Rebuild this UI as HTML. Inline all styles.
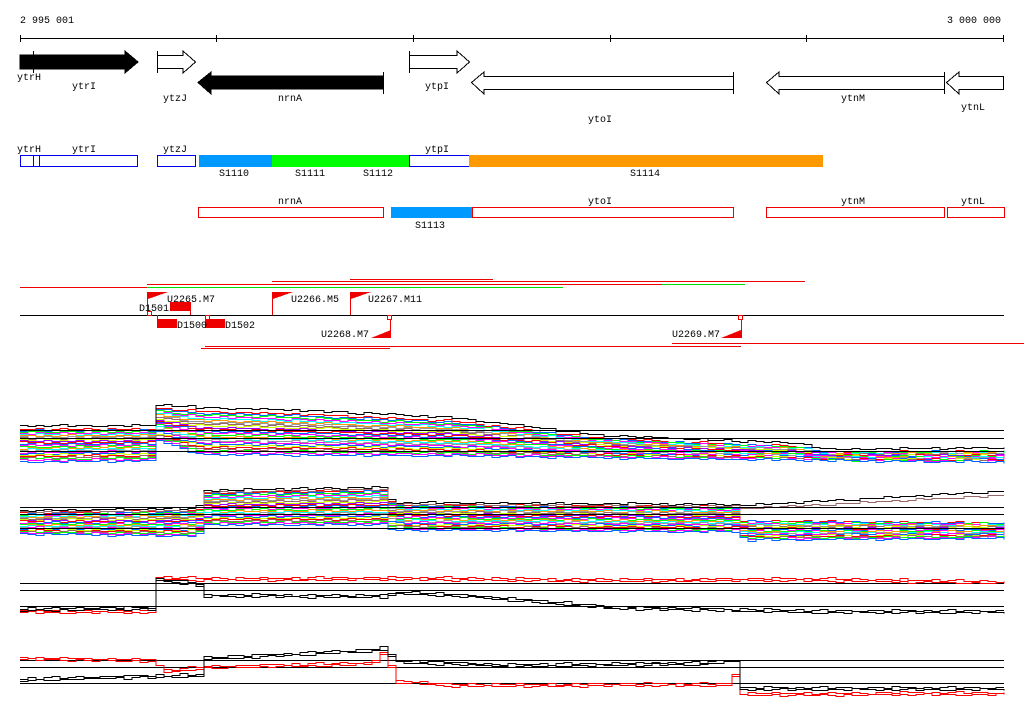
<!DOCTYPE html>
<html><head><meta charset="utf-8"><style>
html,body{margin:0;padding:0;background:#fff;}
svg{display:block;font-family:"Liberation Mono",monospace;font-size:10px;}
</style></head><body>
<svg id="chart" width="1024" height="714" viewBox="0 0 1024 714" xmlns="http://www.w3.org/2000/svg" shape-rendering="crispEdges">
<g>
<text x="20" y="23">2 995 001</text>
<text x="1001" y="23" text-anchor="end">3 000 000</text>
<line x1="20" y1="38.5" x2="1004" y2="38.5" stroke="#000"/>
<path d="M20.5 35v7M216.5 35v7M413.5 35v7M610.5 35v7M806.5 35v7M1003.5 35v7" stroke="#000"/>
</g>
<g stroke="#000">
<path d="M20 55H125V51L138 62L125 73V69H20Z" fill="#000"/>
<line x1="33.5" y1="51" x2="33.5" y2="73"/>
<path d="M157.5 55.5H183V51L195.5 62L183 73V68.5H157.5Z M157.5 51v22" fill="#fff"/>
<path d="M383 76H211V72L198 82.5L211 94V89H383Z" fill="#000"/>
<line x1="383.5" y1="72" x2="383.5" y2="94"/>
<path d="M409.5 55.5H457V51L469.5 62L457 73V68.5H409.5Z M409.5 51v22" fill="#fff"/>
<path d="M733.5 76.5H484V72L471.5 82.5L484 94V89.5H733.5Z M733.5 72v22" fill="#fff"/>
<path d="M944.5 76.5H779V72L766.5 82.5L779 94V89.5H944.5Z M944.5 72v22" fill="#fff"/>
<path d="M1003.5 76.5H959V72L946.5 82.5L959 94V89.5H1003.5Z" fill="#fff"/>
</g>
<g>
<text x="17" y="80">ytrH</text><text x="72" y="89">ytrI</text><text x="163" y="101">ytzJ</text>
<text x="278" y="101">nrnA</text><text x="425" y="89">ytpI</text><text x="588" y="122">ytoI</text>
<text x="841" y="101">ytnM</text><text x="961" y="110">ytnL</text>
</g>
<g>
<text x="17" y="152">ytrH</text><text x="72" y="152">ytrI</text><text x="163" y="152">ytzJ</text><text x="425" y="152">ytpI</text>
<rect x="20.5" y="155.5" width="117" height="11" fill="none" stroke="#0000ee"/>
<path d="M33.5 155v12M39.5 155v12" stroke="#0000ee"/>
<rect x="157.5" y="155.5" width="38" height="11" fill="none" stroke="#0000ee"/>
<rect x="199" y="155" width="73" height="12" fill="#0099ff"/>
<rect x="272" y="155" width="137" height="12" fill="#00ff00"/>
<rect x="409.5" y="155.5" width="60" height="11" fill="none" stroke="#0000ee"/>
<rect x="469" y="155" width="354" height="12" fill="#ff9900"/>
<text x="219" y="176">S1110</text><text x="295" y="176">S1111</text><text x="363" y="176">S1112</text><text x="630" y="176">S1114</text>
</g>
<g>
<text x="278" y="204">nrnA</text><text x="588" y="204">ytoI</text><text x="841" y="204">ytnM</text><text x="961" y="204">ytnL</text>
<rect x="198.5" y="207.5" width="185" height="10" fill="none" stroke="#ee0000"/>
<rect x="391" y="207" width="81" height="11" fill="#0099ff"/>
<rect x="472.5" y="207.5" width="261" height="10" fill="none" stroke="#ee0000"/>
<rect x="766.5" y="207.5" width="178" height="10" fill="none" stroke="#ee0000"/>
<rect x="947.5" y="207.5" width="57" height="10" fill="none" stroke="#ee0000"/>
<text x="415" y="228">S1113</text>
</g>
<g>
<path d="M350 279.5H493M272 281.5H805M147 284.5H662M20 287.5H147" stroke="#ee0000"/>
<path d="M662 284.5H745M147 287.5H563" stroke="#00dd00"/>
<line x1="20" y1="315.5" x2="1004" y2="315.5" stroke="#000"/>
</g>
<g fill="#ee0000">
<path d="M147.5 292v23M272.5 292v23M350.5 292v23M190.5 302v13M157.5 315v4M390.5 315v23M741.5 315v23" stroke="#ee0000"/>
<path d="M148 292h20l-20 7z M273 292h20l-20 7z M351 292h20l-20 7z"/>
<rect x="170" y="302" width="20" height="9"/>
<rect x="157" y="319" width="20" height="9"/>
<rect x="205" y="319" width="20" height="9"/>
<rect x="147.5" y="311.5" width="4" height="4" fill="#fff" stroke="#ee0000"/>
<rect x="205.5" y="315.5" width="4" height="4" fill="#fff" stroke="#ee0000"/>
<rect x="387.5" y="315.5" width="4" height="4" fill="#fff" stroke="#ee0000"/>
<rect x="738.5" y="315.5" width="4" height="4" fill="#fff" stroke="#ee0000"/>
<path d="M371 338h20v-8z M721 338h20v-8z"/>
<g fill="#000">
<text x="167" y="302">U2265.M7</text>
<text x="291" y="302">U2266.M5</text>
<text x="368" y="302">U2267.M11</text>
<text x="139" y="311">D1501</text><text x="177" y="328">D1500</text><text x="225" y="328">D1502</text>
<text x="369" y="337" text-anchor="end">U2268.M7</text>
<text x="720" y="337" text-anchor="end">U2269.M7</text>
</g>
<path d="M672 343.5H1024M205 346.5H741M201 348.5H390" stroke="#ee0000" fill="none"/>
</g>
<g id="panels"></g>
</svg>
<script>
// Panel envelopes: [genomic x, y] keypoints
const p1Top=[[20,428],[148,428],[156,407],[195,410],[300,413],[450,420],[600,438],[800,446],[822,452],[1004,450]];
const p1Bot=[[20,462],[148,461],[156,440],[195,455],[450,456],[800,460],[1004,462]];
const p2Top=[[20,512],[195,510],[203,492],[380,489],[390,504],[732,506],[740,520],[1004,522]];
const p2Bot=[[20,534],[195,536],[203,525],[383,525],[390,530],[734,532],[742,540],[1004,538]];
const fracs=[0.02,0.06,0.1,0.14,0.18,0.22,0.26,0.3,0.34,0.38,0.42,0.46,0.5,0.54,0.58,0.62,0.66,0.7,0.74,0.78,0.82,0.86,0.9,0.94,0.98];
const colors=["#ff0000","#0066ff","#00ff00","#ff00ff","#00ffff","#ff9900","#999999","#996666","#ccff00","#9900ff","#ff0000","#0066ff","#ff00ff","#00ff00","#ff9900","#00ffff","#999999","#ff00ff","#0066ff","#ccff00","#ff0000","#996666","#00ff00","#ff00ff","#0066ff"];
const jitter=[0,1,-1,2,0,-2,1,0,-1,1,2,-1,0,1,-2,0];
const p1Lines=[430,438,451];
const p2Lines=[507,514,528];
const p3Lines=[583,590,606];
const p4Lines=[660,667,683];
const p3Red=[[20,610],[148,610],[153,576],[200,578],[400,577],[600,579],[800,578],[1004,581]];
const p3Black=[[20,608],[148,607],[153,578],[195,582],[203,594],[380,595],[400,591],[470,595],[610,606],[800,610],[1004,610]];
const p4Red=[[20,657],[148,659],[165,670],[200,666],[370,662],[383,648],[392,680],[450,684],[725,683],[733,672],[740,693],[1004,692]];
const p4Black=[[20,678],[150,675],[198,674],[203,657],[370,649],[383,647],[392,660],[500,664],[700,662],[733,659],[740,687],[1004,687]];
const g=document.getElementById('panels');
function interp(pts,x){for(let i=1;i<pts.length;i++){if(x<=pts[i][0]){const a=pts[i-1],b=pts[i];const t=(x-a[0])/(b[0]-a[0]||1);return a[1]+t*(b[1]-a[1]);}}return pts[pts.length-1][1];}
function stepPath(fn,off){let d='';for(let x=20,k=0;x<=1004;x+=8,k++){const y=Math.round(fn(x)+jitter[(k+off)%jitter.length]*0.5)+0.5;d+=(d?'L':'M')+x+' '+y+'H'+Math.min(x+8,1004);}return d;}
function addPath(d,c,name){const p=document.createElementNS('http://www.w3.org/2000/svg','path');
p.setAttribute('d',d);p.setAttribute('stroke',c);p.setAttribute('fill','none');


g.appendChild(p);}
function hlines(arr,name){arr.forEach(y=>addPath('M20 '+(y+0.5)+'H1004','#000',name));}
function bundle(top,bot,name){fracs.forEach((f,i)=>{addPath(stepPath(x=>interp(top,x)+f*(interp(bot,x)-interp(top,x)),i*3),colors[i],name);});}
bundle(p1Top,p1Bot,'panel1-series');
addPath(stepPath(x=>interp(p1Top,x)-3,0),'#000','panel1-top-series');
hlines(p1Lines,'panel1-reference-line');
bundle(p2Top,p2Bot,'panel2-series');
addPath(stepPath(x=>x<740?interp(p2Top,x)-2:505-(x-740)*0.055,2),'#000','panel2-top-series');
addPath(stepPath(x=>x<740?interp(p2Top,x):508-(x-740)*0.05,5),'#996666','panel2-upper-series');
hlines(p2Lines,'panel2-reference-line');
hlines(p3Lines,'panel3-reference-line');
addPath(stepPath(x=>interp(p3Red,x),0),'#ff0000','panel3-red-a');
addPath(stepPath(x=>interp(p3Red,x)+2,4),'#ff0000','panel3-red-b');
addPath(stepPath(x=>interp(p3Black,x),1),'#000','panel3-black-a');
addPath(stepPath(x=>interp(p3Black,x)+2,6),'#000','panel3-black-b');
hlines(p4Lines,'panel4-reference-line');
addPath(stepPath(x=>interp(p4Red,x),0),'#ff0000','panel4-red-a');
addPath(stepPath(x=>interp(p4Red,x)+2,4),'#ff0000','panel4-red-b');
addPath(stepPath(x=>interp(p4Black,x),1),'#000','panel4-black-a');
addPath(stepPath(x=>interp(p4Black,x)+2,6),'#000','panel4-black-b');
</script>
</body></html>
